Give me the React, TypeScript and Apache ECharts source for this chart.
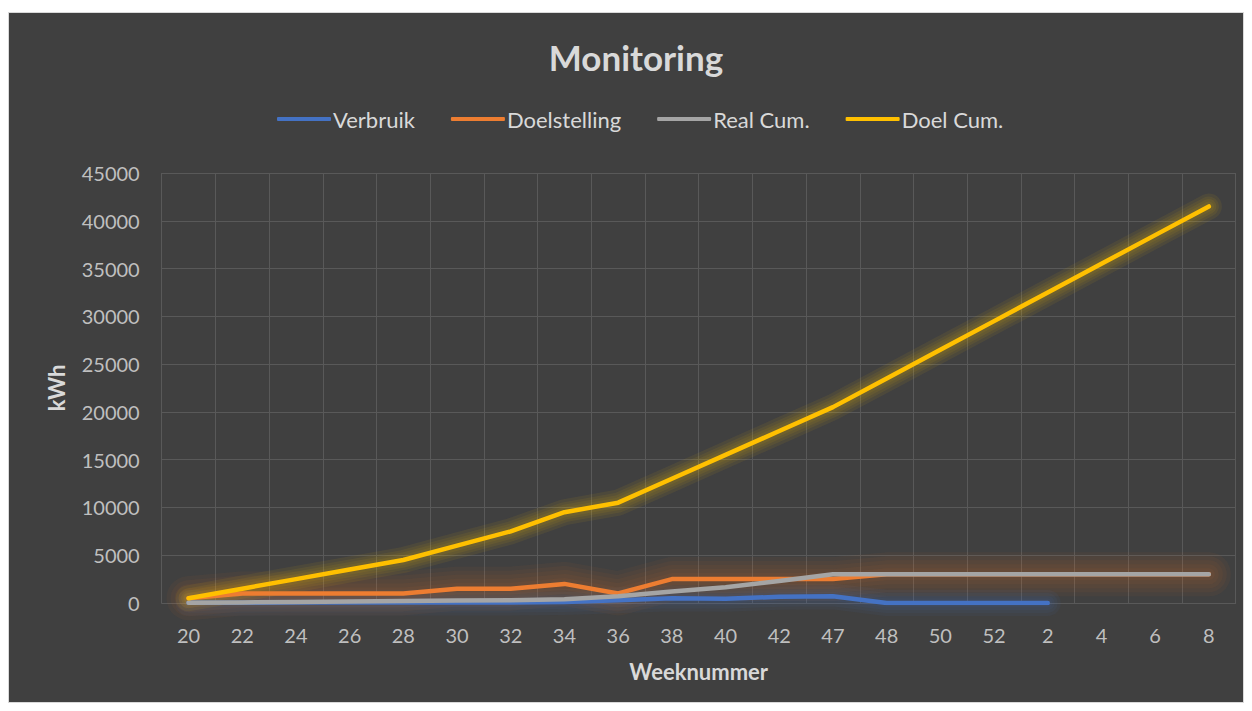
import React, { useEffect, useRef } from "react";
import * as echarts from "echarts";

const weeks = ["20", "22", "24", "26", "28", "30", "32", "34", "36", "38", "40", "42", "47", "48", "50", "52", "2", "4", "6", "8"];
const verbruik = [30, 30, 40, 50, 50, 50, 50, 100, 300, 500, 450, 650, 700, 0, 0, 0, 0, null, null, null];
const doelstelling = [500, 1000, 1000, 1000, 1000, 1500, 1500, 2000, 1000, 2500, 2500, 2500, 2500, 3000, 3000, 3000, 3000, 3000, 3000, 3000];
const realCum = [30, 60, 100, 150, 200, 250, 300, 400, 700, 1200, 1650, 2300, 3000, 3000, 3000, 3000, 3000, 3000, 3000, 3000];
const doelCum = [500, 1500, 2500, 3500, 4500, 6000, 7500, 9500, 10500, 13000, 15500, 18000, 20500, 23500, 26500, 29500, 32500, 35500, 38500, 41500];

const FONT = "Lato, 'Open Sans', sans-serif";

export default function App() {
  const ref = useRef<HTMLDivElement>(null);
  useEffect(() => {
    if (!ref.current) return;
    const chart = echarts.init(ref.current, undefined, { renderer: "svg" });
    const mk = (name: string, data: (number | null)[], color: string) => ({
      name,
      type: "line",
      data,
      showSymbol: false,
      symbol: "none",
      connectNulls: false,
      lineStyle: { color, width: 4.5, cap: "round", join: "round" },
      itemStyle: { color },
    });
    const glow = (name: string, data: (number | null)[], rgb: string, widths: number[], alpha: number) =>
      widths.map((w, i) => ({
        name: name + " glow " + i,
        type: "line",
        data,
        showSymbol: false,
        symbol: "none",
        silent: true,
        connectNulls: false,
        lineStyle: { color: `rgba(${rgb},${alpha})`, width: w, cap: "round", join: "round" },
      }));
    chart.setOption({
      animation: false,
      backgroundColor: "#404040",
      textStyle: { fontFamily: FONT },
      title: {
        text: "Monitoring",
        left: 622,
        textAlign: "center",
        top: 21,
        textStyle: { color: "#D9D9D9", fontSize: 35, fontWeight: "bold", fontFamily: FONT },
      },
      legend: {
        top: 90,
        left: 263,
        itemGap: 36,
        itemWidth: 54,
        itemHeight: 4,
        icon: "roundRect",
        textStyle: { color: "#D9D9D9", fontSize: 22, fontFamily: FONT, padding: [0, 0, 0, -3] },
        itemStyle: { shadowBlur: 0 },
        data: ["Verbruik", "Doelstelling", "Real Cum.", "Doel Cum."],
      },
      grid: { left: 152.7, top: 160, width: 1074, height: 430 },
      xAxis: {
        type: "category",
        data: weeks,
        boundaryGap: true,
        name: "Weeknummer",
        nameLocation: "middle",
        nameGap: 57,
        nameTextStyle: { color: "#D9D9D9", fontSize: 22, fontWeight: "bold", fontFamily: FONT },
        axisLine: { show: true, lineStyle: { color: "#595959", width: 1 } },
        axisTick: { show: false },
        axisLabel: { color: "#BFBFBF", fontSize: 20, margin: 22, fontFamily: FONT },
        splitLine: { show: true, lineStyle: { color: "#595959", width: 1 } },
      },
      yAxis: {
        type: "value",
        min: 0,
        max: 45000,
        interval: 5000,
        name: "kWh",
        nameLocation: "middle",
        nameGap: 94,
        nameRotate: 90,
        nameTextStyle: { color: "#D9D9D9", fontSize: 22, fontWeight: "bold", fontFamily: FONT },
        axisLine: { show: false },
        axisTick: { show: false },
        axisLabel: { color: "#BFBFBF", fontSize: 20, margin: 22, fontFamily: FONT, formatter: (v: number) => String(v) },
        splitLine: { show: true, lineStyle: { color: "#595959", width: 1 } },
      },
      series: [
        ...glow("Verbruik", verbruik, "68,114,196", [26, 20, 14, 9], 0.06),
        ...glow("Doelstelling", doelstelling, "237,125,49", [44, 36, 28, 20, 12], 0.05),
        ...glow("Doel Cum.", doelCum, "255,192,0", [26, 20, 15, 10], 0.07),
        mk("Verbruik", verbruik, "#4472C4"),
        mk("Doelstelling", doelstelling, "#ED7D31"),
        mk("Real Cum.", realCum, "#A5A5A5"),
        mk("Doel Cum.", doelCum, "#FFC000"),
      ],
    });
    return () => chart.dispose();
  }, []);
  return (
    <div
      style={{
        width: 1236,
        height: 691,
        marginTop: 4,
        boxSizing: "border-box",
        border: "1px solid #D9D9D9",
        background: "#404040",
      }}
    >
      <div ref={ref} style={{ width: 1234, height: 689 }} />
    </div>
  );
}
